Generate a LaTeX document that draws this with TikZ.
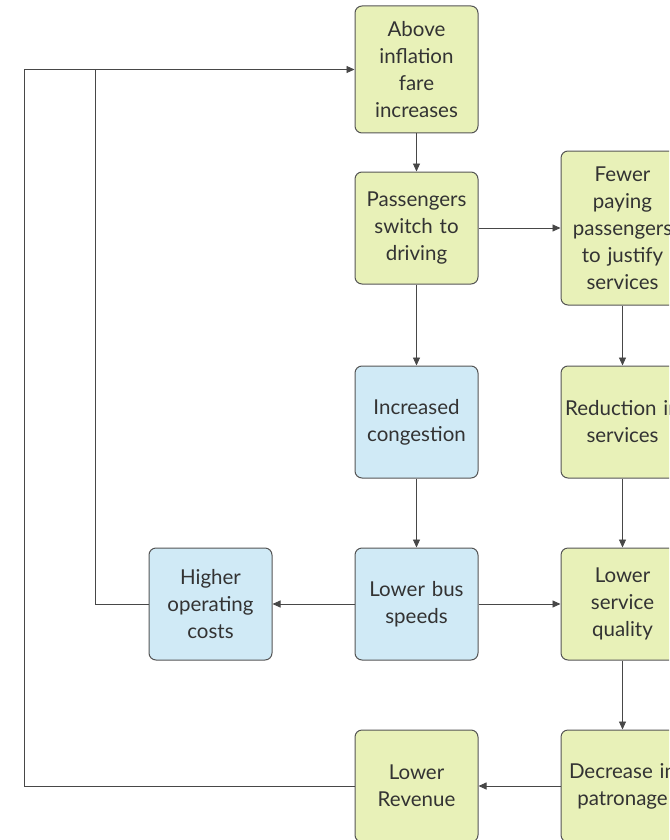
\documentclass[tikz,border=0pt]{standalone}
\usepackage{fontspec}
\setmainfont{Lato}
\usetikzlibrary{arrows.meta}
\definecolor{gfill}{HTML}{E8F1B8}
\definecolor{bfill}{HTML}{D0EAF6}
\definecolor{edge}{HTML}{555555}
\definecolor{txt}{HTML}{333333}
\tikzset{
  box/.style={draw=edge, line width=1pt, rounded corners=7pt, minimum width=123pt, text width=120pt, align=center, inner sep=0pt, text=txt, font=\fontsize{20.5}{27}\selectfont},
  gbox/.style={box, fill=gfill},
  bbox/.style={box, fill=bfill},
  conn/.style={draw=txt!90, line width=0.9pt, -{Triangle[length=8pt,width=7pt]}},
  plain/.style={draw=txt!90, line width=0.9pt}
}
\begin{document}
\begin{tikzpicture}[x=1pt,y=-1pt]
\useasboundingbox (0,0) rectangle (669,840);
\clip (0,0) rectangle (669,840);
\node[gbox, minimum height=127pt] (above) at (416.5,69.5) {Above\\inflation\\fare\\increases};
\node[gbox, minimum height=112pt] (switch) at (416.5,228) {Passengers\\switch to\\driving};
\node[gbox, minimum height=154pt] (fewer) at (622.5,228) {Fewer\\paying\\passengers\\to justify\\services};
\node[bbox, minimum height=112pt] (cong) at (416.5,422) {Increased\\congestion};
\node[gbox, minimum height=112pt] (reduc) at (622.5,422) {Reduction in\\services};
\node[bbox, minimum height=112pt] (costs) at (210.5,604) {Higher\\operating\\costs};
\node[bbox, minimum height=112pt] (speeds) at (416.5,604) {Lower bus\\speeds};
\node[gbox, minimum height=112pt] (quality) at (622.5,604) {Lower\\service\\quality};
\node[gbox, minimum height=112pt] (revenue) at (416.5,786) {Lower\\Revenue};
\node[gbox, minimum height=112pt] (patron) at (622.5,786) {Decrease in\\patronage};
\coordinate (c1) at (24,786);
\coordinate (c2) at (24,69.5);
\coordinate (c3) at (95,604);
\coordinate (c4) at (95,69.5);
\draw[conn] (above) -- (switch);
\draw[conn] (switch) -- (fewer);
\draw[conn] (switch) -- (cong);
\draw[conn] (fewer) -- (reduc);
\draw[conn] (reduc) -- (quality);
\draw[conn] (cong) -- (speeds);
\draw[conn] (speeds) -- (costs);
\draw[conn] (speeds) -- (quality);
\draw[conn] (quality) -- (patron);
\draw[conn] (patron) -- (revenue);
\draw[conn] (revenue.west) -- (c1) -- (c2) -- (above.west);
\draw[plain] (costs.west) -- (c3) -- (c4);
\end{tikzpicture}
\end{document}
